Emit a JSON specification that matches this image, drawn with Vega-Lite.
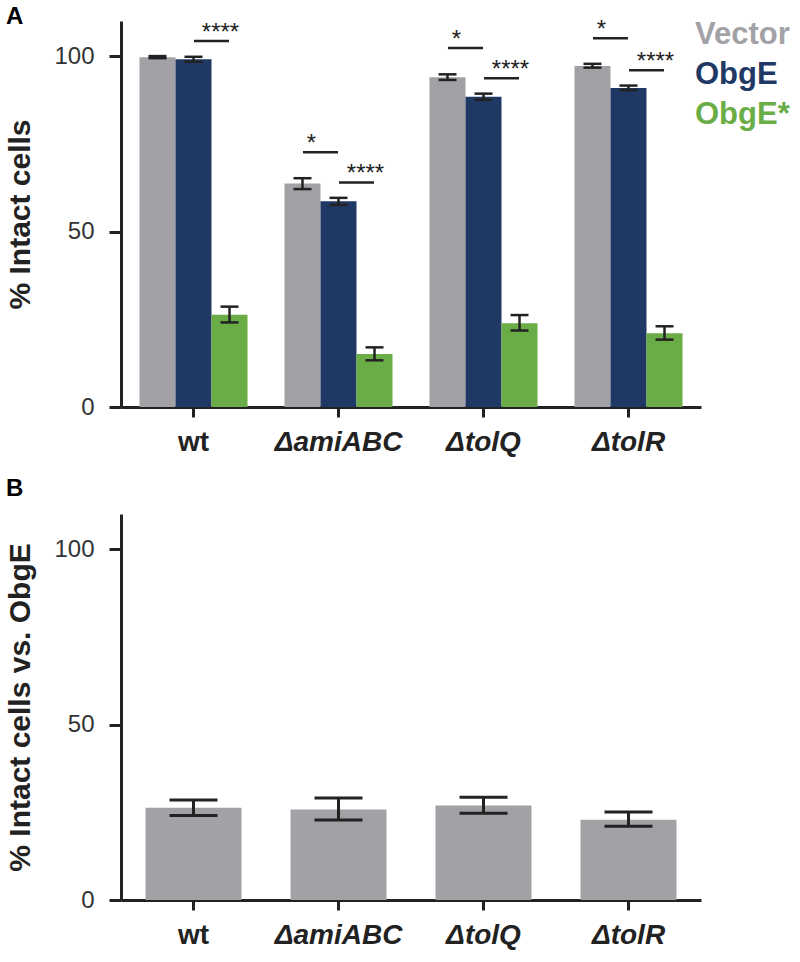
{
  "$schema": "https://vega.github.io/schema/vega-lite/v6.json",
  "padding": {"left": 5, "top": 5, "right": 5, "bottom": 5},
  "config": {
    "view": {"stroke": null},
    "font": "Liberation Sans",
    "axis": {
      "grid": false,
      "domainColor": "#222",
      "domainWidth": 3,
      "tickColor": "#222",
      "tickWidth": 3,
      "labelColor": "#333",
      "titleColor": "#222",
      "labelFont": "Liberation Sans",
      "titleFont": "Liberation Sans"
    }
  },
  "datasets": {
    "groups": [
      {"strain": "wt", "series": "Vector", "value": 99.7, "lo": 99.4, "hi": 100.0},
      {"strain": "wt", "series": "ObgE", "value": 99.1, "lo": 98.4, "hi": 99.8},
      {"strain": "wt", "series": "ObgE*", "value": 26.3, "lo": 24.1, "hi": 28.6},
      {"strain": "ΔamiABC", "series": "Vector", "value": 63.7, "lo": 62.1, "hi": 65.2},
      {"strain": "ΔamiABC", "series": "ObgE", "value": 58.6, "lo": 57.6, "hi": 59.6},
      {"strain": "ΔamiABC", "series": "ObgE*", "value": 15.1, "lo": 13.3, "hi": 17.0},
      {"strain": "ΔtolQ", "series": "Vector", "value": 94.0, "lo": 93.2, "hi": 94.8},
      {"strain": "ΔtolQ", "series": "ObgE", "value": 88.4, "lo": 87.5, "hi": 89.3},
      {"strain": "ΔtolQ", "series": "ObgE*", "value": 23.9, "lo": 21.8, "hi": 26.2},
      {"strain": "ΔtolR", "series": "Vector", "value": 97.2, "lo": 96.7, "hi": 97.8},
      {"strain": "ΔtolR", "series": "ObgE", "value": 90.9, "lo": 90.3, "hi": 91.6},
      {"strain": "ΔtolR", "series": "ObgE*", "value": 21.0, "lo": 19.2, "hi": 23.0}
    ],
    "signif": [
      {"strain": "wt", "pair": "OS", "yl": 104.3, "label": "****"},
      {"strain": "ΔamiABC", "pair": "VO", "yl": 72.6, "label": "*"},
      {"strain": "ΔamiABC", "pair": "OS", "yl": 64.0, "label": "****"},
      {"strain": "ΔtolQ", "pair": "VO", "yl": 102.3, "label": "*"},
      {"strain": "ΔtolQ", "pair": "OS", "yl": 93.7, "label": "****"},
      {"strain": "ΔtolR", "pair": "VO", "yl": 105.1, "label": "*"},
      {"strain": "ΔtolR", "pair": "OS", "yl": 96.0, "label": "****"}
    ],
    "ratio": [
      {"strain": "wt", "value": 26.3, "lo": 24.1, "hi": 28.5},
      {"strain": "ΔamiABC", "value": 25.8, "lo": 22.8, "hi": 29.1},
      {"strain": "ΔtolQ", "value": 26.9, "lo": 24.7, "hi": 29.3},
      {"strain": "ΔtolR", "value": 22.9, "lo": 21.0, "hi": 25.1}
    ]
  },
  "spacing": 21,
  "resolve": {"legend": {"color": "independent"}},
  "vconcat": [
    {
      "title": {"text": "A", "anchor": "start", "frame": "bounds", "fontSize": 24, "fontWeight": "bold", "color": "#000", "offset": -11},
      "width": 580,
      "height": 386,
      "encoding": {
        "x": {
          "field": "strain", "type": "nominal",
          "scale": {"domain": ["wt", "ΔamiABC", "ΔtolQ", "ΔtolR"], "paddingInner": 0.255, "paddingOuter": 0.1275},
          "axis": {
            "title": null, "labelAngle": 0, "labelFontSize": 28, "labelFontWeight": "bold",
            "labelFontStyle": {"condition": {"test": "datum.value == 'wt'", "value": "normal"}, "value": "italic"},
            "labelColor": "#222", "labelPadding": 11, "tickSize": 10
          }
        }
      },
      "layer": [
        {
          "data": {"name": "groups"},
          "mark": {"type": "bar"},
          "encoding": {
            "xOffset": {"field": "series", "type": "nominal", "scale": {"domain": ["Vector", "ObgE", "ObgE*"], "paddingInner": 0, "paddingOuter": 0}},
            "y": {
              "field": "value", "type": "quantitative",
              "scale": {"domain": [0, 110], "nice": false},
              "axis": {"values": [0, 50, 100], "title": "% Intact cells", "titleFontSize": 30, "titleFontWeight": "bold", "titlePadding": 18, "labelFontSize": 24, "labelPadding": 15, "tickSize": 12}
            },
            "color": {
              "field": "series", "type": "nominal",
              "scale": {"domain": ["Vector", "ObgE", "ObgE*"], "range": ["#a2a2a6", "#1f3864", "#6aad46"]},
              "legend": {
                "title": null, "orient": "none", "legendX": 543, "legendY": -2,
                "labelFontSize": 31, "labelFontWeight": "bold", "labelFont": "Liberation Sans",
                "symbolSize": 0, "symbolOpacity": 0, "symbolStrokeWidth": 0, "labelOffset": 0,
                "rowPadding": 8, "padding": 0,
                "encode": {"labels": {"update": {"fill": {"scale": "color", "field": "value"}}}}
              }
            }
          }
        },
        {
          "data": {"name": "groups"},
          "mark": {"type": "rule", "color": "#222", "strokeWidth": 2.5},
          "encoding": {
            "xOffset": {"field": "series", "type": "nominal", "scale": {"domain": ["Vector", "ObgE", "ObgE*"], "paddingInner": 0, "paddingOuter": 0}},
            "y": {"field": "lo", "type": "quantitative"},
            "y2": {"field": "hi"}
          }
        },
        {
          "data": {"name": "groups"},
          "mark": {"type": "tick", "orient": "horizontal", "color": "#222", "size": 18, "thickness": 2.5, "opacity": 1},
          "encoding": {
            "xOffset": {"field": "series", "type": "nominal", "scale": {"domain": ["Vector", "ObgE", "ObgE*"], "paddingInner": 0, "paddingOuter": 0}},
            "y": {"field": "lo", "type": "quantitative"}
          }
        },
        {
          "data": {"name": "groups"},
          "mark": {"type": "tick", "orient": "horizontal", "color": "#222", "size": 18, "thickness": 2.5, "opacity": 1},
          "encoding": {
            "xOffset": {"field": "series", "type": "nominal", "scale": {"domain": ["Vector", "ObgE", "ObgE*"], "paddingInner": 0, "paddingOuter": 0}},
            "y": {"field": "hi", "type": "quantitative"}
          }
        },
        {
          "data": {"name": "signif"},
          "mark": {"type": "tick", "orient": "horizontal", "color": "#222", "size": 35, "thickness": 2.5, "opacity": 1},
          "encoding": {
            "xOffset": {"field": "pair", "type": "nominal", "scale": {"domain": ["VO", "OS"], "paddingInner": 0, "paddingOuter": 0.5}},
            "y": {"field": "yl", "type": "quantitative"}
          }
        },
        {
          "data": {"name": "signif"},
          "mark": {"type": "text", "color": "#222", "fontSize": 24, "baseline": "alphabetic", "dy": -1},
          "encoding": {
            "xOffset": {"field": "pair", "type": "nominal", "scale": {"domain": ["VO", "OS"], "paddingInner": 0, "paddingOuter": 0.5}},
            "y": {"field": "yl", "type": "quantitative"},
            "text": {"field": "label"}
          }
        }
      ],
      "resolve": {"scale": {"xOffset": "independent"}}
    },
    {
      "title": {"text": "B", "anchor": "start", "frame": "bounds", "fontSize": 24, "fontWeight": "bold", "color": "#000", "offset": 13},
      "width": 580,
      "height": 386,
      "data": {"name": "ratio"},
      "encoding": {
        "x": {
          "field": "strain", "type": "nominal",
          "scale": {"domain": ["wt", "ΔamiABC", "ΔtolQ", "ΔtolR"], "paddingInner": 0.338, "paddingOuter": 0.169},
          "axis": {
            "title": null, "labelAngle": 0, "labelFontSize": 28, "labelFontWeight": "bold",
            "labelFontStyle": {"condition": {"test": "datum.value == 'wt'", "value": "normal"}, "value": "italic"},
            "labelColor": "#222", "labelPadding": 11, "tickSize": 10
          }
        }
      },
      "layer": [
        {
          "mark": {"type": "bar", "color": "#a2a2a6"},
          "encoding": {
            "y": {
              "field": "value", "type": "quantitative",
              "scale": {"domain": [0, 110], "nice": false},
              "axis": {"values": [0, 50, 100], "title": "% Intact cells vs. ObgE", "titleFontSize": 30, "titleFontWeight": "bold", "titlePadding": 18, "labelFontSize": 24, "labelPadding": 15, "tickSize": 12}
            }
          }
        },
        {
          "mark": {"type": "rule", "color": "#222", "strokeWidth": 3},
          "encoding": {
            "y": {"field": "lo", "type": "quantitative"},
            "y2": {"field": "hi"}
          }
        },
        {
          "mark": {"type": "tick", "orient": "horizontal", "color": "#222", "size": 48, "thickness": 3, "opacity": 1},
          "encoding": {"y": {"field": "lo", "type": "quantitative"}}
        },
        {
          "mark": {"type": "tick", "orient": "horizontal", "color": "#222", "size": 48, "thickness": 3, "opacity": 1},
          "encoding": {"y": {"field": "hi", "type": "quantitative"}}
        }
      ]
    }
  ]
}
